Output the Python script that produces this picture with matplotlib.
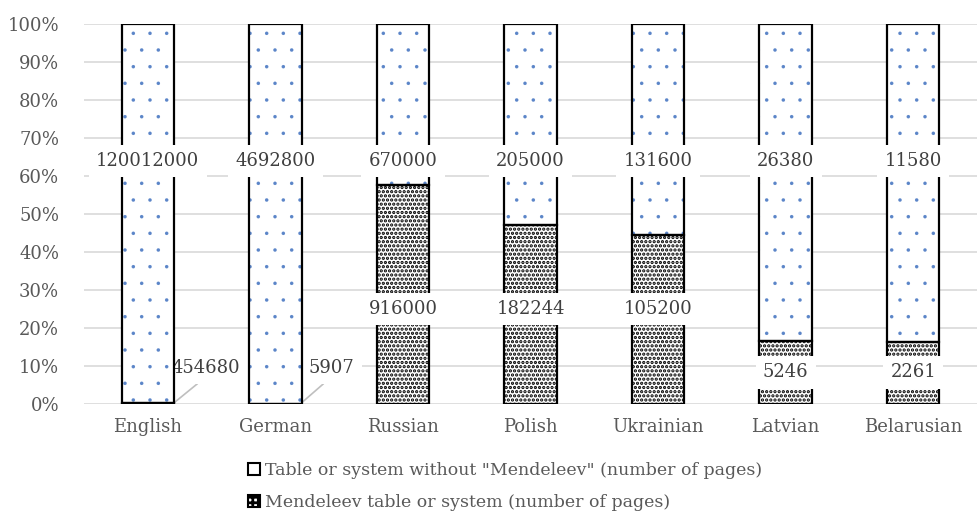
import matplotlib.pyplot as plt
import numpy as np
from matplotlib.patches import Patch

# Data (number of pages)
languages = ['English', 'German', 'Russian', 'Polish', 'Ukrainian', 'Latvian', 'Belarusian']
mendeleev = [454680, 5907, 916000, 182244, 105200, 5246, 2261]
without = [120012000, 4692800, 670000, 205000, 131600, 26380, 11580]
label_without = 'Table or system without "Mendeleev" (number of pages)'
label_mendeleev = 'Mendeleev table or system (number of pages)'

plt.rcParams['font.family'] = ['DejaVu Serif']

grey = '#595959'
blue = '#5b85c8'

m = np.array(mendeleev, dtype=float)
w = np.array(without, dtype=float)
total = m + w
m_pct = m / total * 100
w_pct = w / total * 100
x = np.arange(len(languages))
width = 0.41

fig = plt.figure(figsize=(9.77, 5.14), dpi=100)
ax = fig.add_axes([0.086, 0.214, 0.914, 0.739])
ax.set_axisbelow(True)

# Bottom series: dense black dots
with plt.rc_context({'hatch.linewidth': 1.6}):
    ax.bar(x, m_pct, width, color='white', edgecolor='black', hatch='....', linewidth=0, zorder=2)
# Top series: sparse blue dots
with plt.rc_context({'hatch.linewidth': 0.1}):
    ax.bar(x, w_pct, width, bottom=m_pct, color='white', edgecolor=blue, hatch='.', linewidth=0, zorder=2)
# Outlines
ax.bar(x, m_pct, width, fill=False, edgecolor='black', linewidth=1.6, zorder=3)
ax.bar(x, w_pct, width, bottom=m_pct, fill=False, edgecolor='black', linewidth=1.6, zorder=3)

ax.set_xlim(-0.5, len(languages) - 0.5)
ax.set_ylim(0, 100)
ax.set_yticks(np.arange(0, 101, 10))
ax.set_yticklabels([f'{v}%' for v in range(0, 101, 10)])
ax.set_xticks(x)
ax.set_xticklabels(languages)
ax.tick_params(length=0, labelsize=13, labelcolor=grey)
ax.tick_params(axis='y', pad=18)
ax.tick_params(axis='x', pad=10)
ax.grid(axis='y', color='#d9d9d9', linewidth=1.2)
for s in ax.spines.values():
    s.set_visible(False)

box = dict(boxstyle='square,pad=0.4', fc='white', ec='none')
txt = dict(ha='center', va='center', fontsize=13, color='#404040', bbox=box)

# Top series labels
for i in range(len(languages)):
    ax.text(x[i], 64.0, str(without[i]), zorder=5, **txt)

# Bottom series labels (moved around as in the source chart)
for i in range(len(languages)):
    if m_pct[i] > 30:
        ax.text(x[i], 25.0, str(mendeleev[i]), zorder=5, **txt)
    elif m_pct[i] > 5:
        ax.text(x[i], 8.3, str(mendeleev[i]), zorder=5, **txt)
    else:
        # tiny segments: label outside the bar with a leader line
        ax.annotate(str(mendeleev[i]), xy=(x[i] + width / 2, 0.3),
                    xytext=(x[i] + 0.41 + 0.008 * len(str(mendeleev[i])), 9.6),
                    arrowprops=dict(arrowstyle='-', color='#bfbfbf', lw=1.2,
                                    relpos=(0.5, 0.0), shrinkA=0, shrinkB=0),
                    zorder=1.8, **txt)

handles = [Patch(facecolor='white', edgecolor='black', linewidth=1.5),
           Patch(facecolor='white', edgecolor='black', hatch='+++', linewidth=1.5)]
with plt.rc_context({'hatch.linewidth': 2.0}):
    leg = fig.legend(handles, [label_without, label_mendeleev], loc='upper left',
                     bbox_to_anchor=(0.245, 0.118), frameon=False, fontsize=12.5,
                     handlelength=0.7, handleheight=0.7, handletextpad=0.25,
                     labelspacing=0.85, borderpad=0)
for t in leg.get_texts():
    t.set_color(grey)

fig.savefig('out.png', dpi=100)
